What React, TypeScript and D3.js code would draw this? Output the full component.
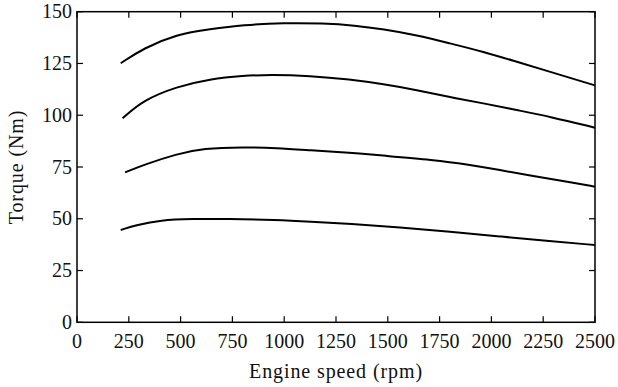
import React from "react";
import * as d3 from "d3";

const xTicks = [0, 250, 500, 750, 1000, 1250, 1500, 1750, 2000, 2250, 2500];
const yTicks = [0, 25, 50, 75, 100, 125, 150];

const curve1: [number, number][] = [
  [211, 125.1], [320, 132.3], [481, 139.1], [642, 141.6], [803, 143.6], [996, 144.6],
  [1189, 144.4], [1340, 143.4], [1478, 141.6], [1640, 138.7], [1800, 134.7], [1961, 130.7],
  [2122, 125.8], [2283, 121.0], [2500, 114.4],
];
const curve2: [number, number][] = [
  [220, 98.5], [320, 107.3], [481, 113.8], [642, 117.5], [803, 119.1], [931, 119.6],
  [1124, 119.1], [1318, 117.3], [1478, 115.0], [1640, 112.2], [1800, 108.7], [1961, 105.8],
  [2122, 102.5], [2283, 99.3], [2500, 94.0],
];
const curve3: [number, number][] = [
  [232, 72.4], [320, 76.0], [481, 81.3], [610, 84.0], [803, 84.6], [963, 84.2],
  [1124, 83.1], [1318, 81.9], [1478, 80.5], [1720, 78.4], [1880, 76.4], [2041, 73.5],
  [2202, 70.6], [2363, 67.9], [2500, 65.5],
];
const curve4: [number, number][] = [
  [211, 44.6], [288, 47.0], [401, 49.4], [561, 49.9], [722, 50.0], [963, 49.4],
  [1124, 48.6], [1318, 47.5], [1559, 45.9], [1800, 43.8], [2041, 41.4], [2283, 39.3],
  [2500, 37.3],
];
const series = [curve1, curve2, curve3, curve4];

const W = 618, H = 387;
const M = { left: 77, right: 595, top: 11.7, bottom: 322.3 };
const FONT = "'Liberation Serif', 'DejaVu Serif', serif";

export default function App() {
  const x = d3.scaleLinear().domain([0, 2500]).range([M.left, M.right]);
  const y = d3.scaleLinear().domain([0, 150]).range([M.bottom, M.top]);
  const line = d3
    .line<[number, number]>()
    .x((d) => x(d[0]))
    .y((d) => y(d[1]))
    .curve(d3.curveBasis);
  const tl = 6;
  return (
    <svg width={W} height={H} style={{ position: "absolute", left: 0, top: 0 }}>
      <rect x={0} y={0} width={W} height={H} fill="#fff" />
      {series.map((s, i) => (
        <path key={i} d={line(s) || ""} fill="none" stroke="#000" strokeWidth={2} />
      ))}
      <rect
        x={M.left}
        y={M.top}
        width={M.right - M.left}
        height={M.bottom - M.top}
        fill="none"
        stroke="#000"
        strokeWidth={1.5}
      />
      {xTicks.map((t) => (
        <g key={"x" + t}>
          <line x1={x(t)} x2={x(t)} y1={M.bottom} y2={M.bottom - tl} stroke="#000" strokeWidth={1.2} />
          <line x1={x(t)} x2={x(t)} y1={M.top} y2={M.top + tl} stroke="#000" strokeWidth={1.2} />
          <text x={x(t)} y={348} textAnchor="middle" fontFamily={FONT} fontSize={20} fill="#111">
            {t}
          </text>
        </g>
      ))}
      {yTicks.map((t) => (
        <g key={"y" + t}>
          <line x1={M.left} x2={M.left + tl} y1={y(t)} y2={y(t)} stroke="#000" strokeWidth={1.2} />
          <line x1={M.right} x2={M.right - tl} y1={y(t)} y2={y(t)} stroke="#000" strokeWidth={1.2} />
          <text x={72} y={y(t) + 6.5} textAnchor="end" fontFamily={FONT} fontSize={20} fill="#111">
            {t}
          </text>
        </g>
      ))}
      <text x={336} y={378} textAnchor="middle" fontFamily={FONT} fontSize={20} letterSpacing={0.9} fill="#111">
        Engine speed (rpm)
      </text>
      <text
        transform={`translate(23,${(M.top + M.bottom) / 2}) rotate(-90)`}
        textAnchor="middle"
        fontFamily={FONT}
        fontSize={20}
        letterSpacing={0.9}
        fill="#111"
      >
        Torque (Nm)
      </text>
    </svg>
  );
}
